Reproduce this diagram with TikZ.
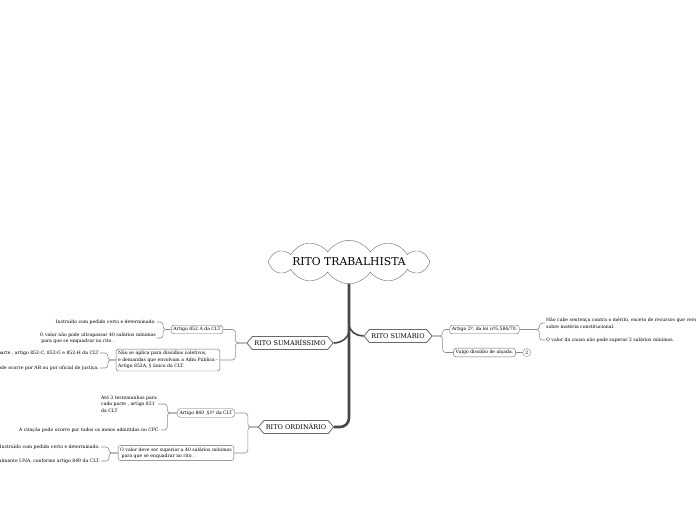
\documentclass[tikz,border=0pt]{standalone}
\usepackage{fontspec}
\setmainfont{DejaVu Serif}
\usepackage{tikz}
\usetikzlibrary{positioning,shapes.symbols}
\usepackage{xcolor}
\definecolor{linegray}{HTML}{8C8C8C}
\definecolor{boxgray}{HTML}{6A6A6A}
\definecolor{trunkgray}{HTML}{474747}
\newcommand{\leafsize}{\fontsize{4.6}{6.6}\selectfont}

\begin{document}
\begin{tikzpicture}[x=1pt, y=-1pt,
    titleCloud/.style={cloud, cloud puffs=12, cloud puff arc=115, aspect=7.5, draw=boxgray, fill=white, minimum width=162pt, font=\fontsize{10.8}{12}\selectfont, inner sep=0pt},
    ritoBox/.style={signal, signal to=west and east, signal pointer angle=100, draw=boxgray, fill=white, thick, font=\fontsize{6.5}{7}\selectfont, minimum height=13pt, inner xsep=2pt, inner ysep=0pt},
    topicBox/.style={rectangle, rounded corners=2.5pt, draw=boxgray, fill=white, font=\leafsize, inner xsep=2pt, inner ysep=2pt, align=left},
    leafText/.style={font=\leafsize, inner sep=1pt, align=left},
    countBadge/.style={circle, draw=linegray, fill=white, font=\leafsize, inner sep=0.8pt, minimum size=8pt},
    trunkLine/.style={draw=trunkgray, line width=2.6pt},
    branchLine/.style={draw=trunkgray, line width=1.6pt},
    linkLine/.style={draw=linegray, line width=0.6pt, rounded corners=3pt}
]
    \useasboundingbox (0,0) rectangle (696,520);

    % Central topic
    \node[titleCloud] (titulo) at (349,262) {RITO TRABALHISTA};

    % Main branches
    \node[ritoBox] (sumarissimo) at (290,343) {RITO SUMARÍSSIMO};
    \node[ritoBox] (sumario) at (398,336) {RITO SUMÁRIO};
    \node[ritoBox] (ordinario) at (296,427) {RITO ORDINÁRIO};

    % Rito sumarissimo
    \node[topicBox] (art852) at (197,329.5) {Artigo 852 A da CLT};
    \node[topicBox] (aplica) at (168,360) {Não se aplica para dissídios coletivos,\\e demandas que envolvam a Adm Pública -\\Artigo 852A, § único da CLT.};
    \node[leafText, anchor=east] (art852a) at (157,322) {Instruído com pedido certo e determinado.};
    \node[leafText, anchor=east] (art852b) at (157,338) {O valor não pode ultrapassar 40 salários mínimos\\\ para que se enquadrar no rito .};
    \node[leafText, anchor=east] (aplicaA) at (100,353) {parte , artigo 852-C, 852-G e 852-H da CLT};
    \node[leafText, anchor=east] (aplicaB) at (100,368) {A citação pode ocorre por AR ou por oficial de justiça.};

    % Rito sumario
    \node[topicBox] (art2) at (484.5,329.5) {Artigo 2º, da lei  nº5.584/70.};
    \node[topicBox] (vulgo) at (484.5,352.5) {Vulgo dissídio de alçada.};
    \node[countBadge, right=7pt of vulgo] (vulgoCount) {2};
    \node[leafText, anchor=west] (art2a) at (545,323) {Não cabe sentença contra o mérito, exceto de recursos  que versem\\sobre matéria constitucional.};
    \node[leafText, anchor=west] (art2b) at (545,340) {O valor da causa não pode superar 2 salários mínimos.};

    % Rito ordinario
    \node[topicBox] (art840) at (206,413) {Artigo 840 ,§1º da CLT};
    \node[topicBox] (valor40) at (176,453) {O valor deve ser superior a 40 salários mínimos\\\ para que se enquadrar no rito .};
    \node[leafText, anchor=west] (art840a) at (100,404) {Até 3 testemunhas para\\cada parte , artigo 821\\da CLT};
    \node[leafText, anchor=east] (art840b) at (161,430) {A citação pode ocorre por todos os meios admitidos no CPC.};
    \node[leafText, anchor=east] (valor40a) at (101,447) {Instruído com pedido certo e determinado.};
    \node[leafText, anchor=east] (valor40b) at (101,461) {Audiência realizada normalmente UNA, conforme artigo 849 da CLT.};

    % Trunk
    \draw[trunkLine, rounded corners=9pt] (titulo.south) |- (ordinario.east);
    \draw[branchLine] ([yshift=-46pt]titulo.south) to[out=-90, in=0] (sumarissimo.east);
    \draw[branchLine] ([yshift=-40pt]titulo.south) to[out=-90, in=180] (sumario.west);

    % Links
    \draw[linkLine] (sumarissimo.west) -- ++(-11,0) |- (art852.east);
    \draw[linkLine] (sumarissimo.west) -- ++(-11,0) |- (aplica.east);
    \draw[linkLine] (art852.west) -- ++(-8,0) |- (art852a.east);
    \draw[linkLine] (art852.west) -- ++(-8,0) |- (art852b.east);
    \draw[linkLine] (aplica.west) -- ++(-8,0) |- (aplicaA.east);
    \draw[linkLine] (aplica.west) -- ++(-8,0) |- (aplicaB.east);

    \draw[linkLine] (sumario.east) -- ++(10,0) |- (art2.west);
    \draw[linkLine] (sumario.east) -- ++(10,0) |- (vulgo.west);
    \draw[linkLine] (art2.east) -- ++(20,0) |- (art2a.west);
    \draw[linkLine] (art2.east) -- ++(20,0) |- (art2b.west);
    \draw[linkLine] (vulgo.east) -- (vulgoCount.west);

    \draw[linkLine] (ordinario.west) -- ++(-10,0) |- (art840.east);
    \draw[linkLine] (ordinario.west) -- ++(-10,0) |- (valor40.east);
    \draw[linkLine] (art840.west) -- ++(-10,0) |- (art840a.east);
    \draw[linkLine] (art840.west) -- ++(-10,0) |- (art840b.east);
    \draw[linkLine] (valor40.west) -- ++(-9,0) |- (valor40a.east);
    \draw[linkLine] (valor40.west) -- ++(-9,0) |- (valor40b.east);

\end{tikzpicture}
\end{document}
